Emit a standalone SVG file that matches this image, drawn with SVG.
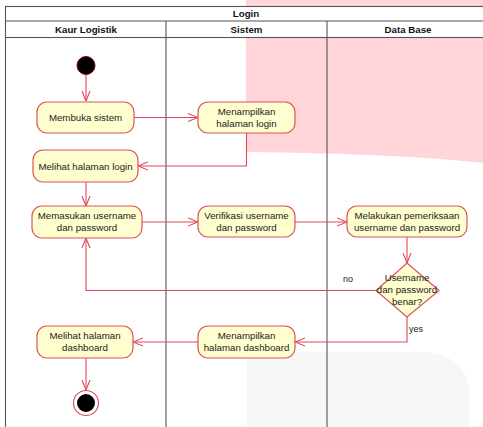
<svg xmlns="http://www.w3.org/2000/svg" width="483" height="427" viewBox="0 0 483 427">
<defs>
<style>
.node rect, .node polygon { fill:#FEFECE; stroke:#D9535D; stroke-width:1.2; }
.t { font-family:"Liberation Sans", Arial, sans-serif; font-size:9.7px; fill:#222; text-anchor:middle; }
.h { font-family:"Liberation Sans", Arial, sans-serif; font-size:9.7px; font-weight:bold; fill:#111; text-anchor:middle; }
.lbl { font-family:"Liberation Sans", Arial, sans-serif; font-size:9px; fill:#222; }
.conn path { fill:none; stroke:#E04858; stroke-width:1.1; marker-end:url(#arr); }
.lane { stroke:#555; stroke-width:1.1; fill:none; }
</style>
<marker id="arr" viewBox="0 0 10 10" refX="10" refY="5" markerWidth="10" markerHeight="10" markerUnits="userSpaceOnUse" orient="auto">
<path d="M0,1 L10,5 L0,9" fill="none" stroke="#E04858" stroke-width="1.1"/>
</marker>
</defs>
<rect width="483" height="427" fill="#FFFFFF"/>
<!-- background shapes -->
<rect x="246" y="0" width="237" height="6" fill="#FFD5DA"/>
<path d="M246,37 L483,37 L483,163 C420,156 340,153 246,152 Z" fill="#FFD5DA"/>
<path d="M247,352 L420,352 Q470,352 470,402 L470,427 L247,427 Z" fill="#F7F7F7"/>
<!-- swimlane table -->
<g id="table">
<rect x="5.5" y="6.5" width="484" height="31" fill="#FFFFFF" stroke="#555" stroke-width="1.1"/>
<line class="lane" x1="5.5" y1="21" x2="489" y2="21"/>
<line class="lane" x1="166" y1="21" x2="166" y2="427"/>
<line class="lane" x1="327" y1="21" x2="327" y2="427"/>
<line class="lane" x1="5.5" y1="37.5" x2="5.5" y2="427"/>
<text class="h" x="246" y="17">Login</text>
<text class="h" x="86" y="32.5">Kaur Logistik</text>
<text class="h" x="246.5" y="32.5">Sistem</text>
<text class="h" x="408" y="32.5">Data Base</text>
</g>
<!-- connectors -->
<g id="connectors" class="conn">
<path d="M86,75 L86,101"/>
<path d="M134,117.5 L198,117.5"/>
<path d="M246.5,133 L246.5,166 L138,166"/>
<path d="M86,182 L86,206"/>
<path d="M142,222 L198,222"/>
<path d="M295,222 L347,222"/>
<path d="M407,237 L407,263"/>
<path d="M376,290.5 L86,290.5 L86,238"/>
<path d="M407,317 L407,342 L295,342"/>
<path d="M198,342 L133,342"/>
<path d="M86,358 L86,390"/>
</g>
<text class="lbl" x="343" y="282">no</text>
<text class="lbl" x="409" y="332">yes</text>
<!-- nodes -->
<g id="start"><circle cx="86" cy="65.5" r="9" fill="#000" stroke="#7A0010" stroke-width="1"/></g>
<g id="membuka" class="node"><rect x="37" y="102" width="97" height="31" rx="10"/><text class="t" x="85.5" y="121">Membuka sistem</text></g>
<g id="tampil-login" class="node"><rect x="198" y="102" width="97" height="31" rx="10"/><text class="t" x="246.5" y="115">Menampilkan</text><text class="t" x="246.5" y="126.5">halaman login</text></g>
<g id="lihat-login" class="node"><rect x="33" y="150" width="105" height="32" rx="10"/><text class="t" x="85.5" y="169.5">Melihat halaman login</text></g>
<g id="masukan" class="node"><rect x="32" y="206" width="110" height="32" rx="10"/><text class="t" x="87" y="219">Memasukan username</text><text class="t" x="87" y="230.5">dan password</text></g>
<g id="verifikasi" class="node"><rect x="198" y="206" width="97" height="31" rx="10"/><text class="t" x="246.5" y="219">Verifikasi username</text><text class="t" x="246.5" y="230.5">dan password</text></g>
<g id="periksa" class="node"><rect x="347" y="206" width="120" height="31" rx="10"/><text class="t" x="407" y="219">Melakukan pemeriksaan</text><text class="t" x="407" y="230.5">username dan password</text></g>
<g id="decision" class="node"><polygon points="407,263 439,290.5 407,317 376,290.5"/><text class="t" x="407" y="281">Username</text><text class="t" x="407" y="293">dan password</text><text class="t" x="407" y="305">benar?</text></g>
<g id="tampil-dashboard" class="node"><rect x="198" y="326" width="97" height="32" rx="10"/><text class="t" x="246.5" y="339">Menampilkan</text><text class="t" x="246.5" y="351">halaman dashboard</text></g>
<g id="lihat-dashboard" class="node"><rect x="37" y="326" width="96" height="32" rx="10"/><text class="t" x="85" y="339">Melihat halaman</text><text class="t" x="85" y="351">dashboard</text></g>
<g id="end"><circle cx="86" cy="403" r="12.5" fill="#FFFFFF" stroke="#E04858" stroke-width="1.1"/><circle cx="86" cy="403" r="9" fill="#000"/></g>
</svg>
